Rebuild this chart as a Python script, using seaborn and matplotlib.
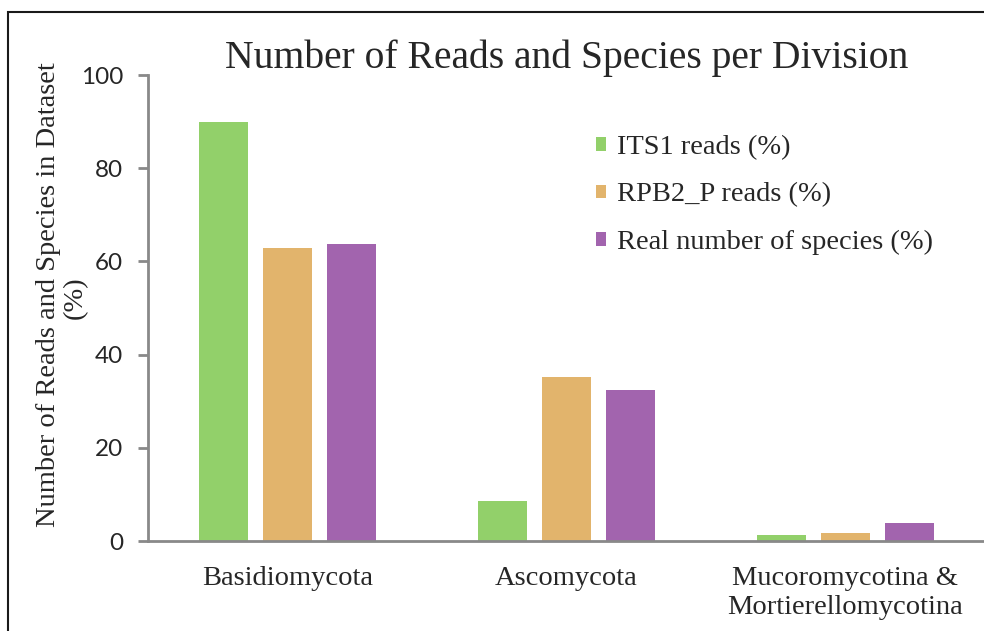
import matplotlib
matplotlib.use("Agg")
import matplotlib.pyplot as plt
from matplotlib.patches import Rectangle
import seaborn as sns
import pandas as pd

# Divisions and the share (%) each series takes in the dataset
divisions = ["Basidiomycota", "Ascomycota", "Mucoromycotina &\nMortierellomycotina"]
series_names = ["ITS1 reads (%)", "RPB2_P reads (%)", "Real number of species (%)"]
its1_reads = [90.0, 8.5, 1.3]
rpb2_reads = [62.8, 35.3, 1.8]
real_species = [63.7, 32.3, 3.9]
y_ticks = [0, 20, 40, 60, 80, 100]
colors = ["#92D06A", "#E2B46C", "#A264AE"]

df = pd.DataFrame({
    "division": divisions * 3,
    "series": [s for s in series_names for _ in divisions],
    "value": its1_reads + rpb2_reads + real_species,
})

sns.set_style("white")
serif = "Liberation Serif"
plt.rcParams["font.family"] = [serif, "DejaVu Serif"]
axis_gray = "#898989"

fig = plt.figure(figsize=(9.84, 6.31), dpi=100)
ax = fig.add_axes([148 / 984, 90 / 631, 837 / 984, 466 / 631])

sns.barplot(data=df, x="division", y="value", hue="series", order=divisions,
            hue_order=series_names, palette=colors, width=0.688, gap=0.22,
            saturation=1, linewidth=0, ax=ax)

ax.set_xlim(-0.5, 2.5)
ax.set_ylim(0, 100)
ax.set_yticks(y_ticks)
ax.set_yticklabels([str(t) for t in y_ticks], fontfamily="Lato", fontsize=17.5)
ax.set_xticks(range(len(divisions)))
ax.set_xticklabels(divisions, fontsize=20.5, linespacing=1.2)
ax.set_xticks([-0.5, 0.5, 1.5, 2.5], minor=True)
ax.tick_params(axis="x", which="major", length=0, pad=18)
ax.tick_params(axis="x", which="minor", length=7, width=2, color=axis_gray, direction="out")
ax.tick_params(axis="y", which="major", length=7, width=2, color=axis_gray,
               direction="out", left=True, pad=11)
ax.set_xlabel("")

for side in ("top", "right"):
    ax.spines[side].set_visible(False)
for side in ("left", "bottom"):
    ax.spines[side].set_color(axis_gray)
    ax.spines[side].set_linewidth(2)

# Y axis title: main line plus the unit on a second line
ax.set_ylabel("Number of Reads and Species in Dataset", fontsize=20.5)
ax.yaxis.set_label_coords(-0.104, 0.529)
ax.text(-0.072, 0.522, "(%)", transform=ax.transAxes, rotation=90,
        ha="right", va="center", fontsize=20.5)

ax.set_title("Number of Reads and Species per Division", fontsize=28.5, pad=5)

handles, labels = ax.get_legend_handles_labels()
ax.legend(handles, labels, loc="upper left", bbox_to_anchor=(596 / 984, 1 - 135 / 631),
          bbox_transform=fig.transFigure, frameon=False, borderpad=0,
          borderaxespad=0, handlelength=0.35, handleheight=0.35,
          handletextpad=0.4, labelspacing=0.79, prop={"family": serif, "size": 20.5})

# Outer frame around the figure
fig.add_artist(Rectangle((8 / 984, -0.2), 1.2, 1.2 - 12 / 631,
                         transform=fig.transFigure, fill=False,
                         edgecolor="#1a1a1a", linewidth=1.5))

fig.savefig("out.png", dpi=100)
